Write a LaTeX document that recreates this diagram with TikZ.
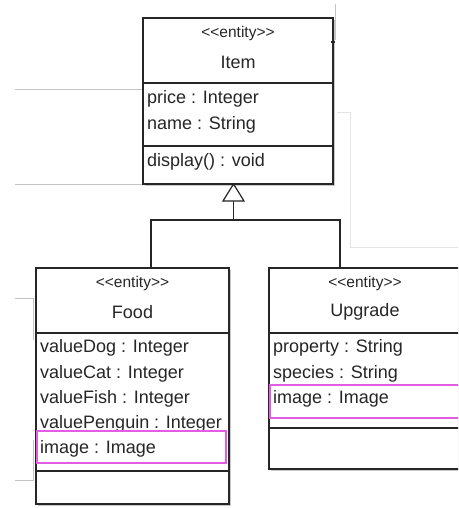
\documentclass[tikz,border=0pt]{standalone}
\usepackage{fontspec}
\setmainfont{Liberation Sans}
\usetikzlibrary{shadows}
\definecolor{boxline}{HTML}{262626}
\definecolor{guide}{HTML}{C4C4C4}
\definecolor{guidelight}{HTML}{E4E4E4}
\definecolor{hilite}{HTML}{E35DE3}
\newcommand{\stereotxt}[1]{\mbox{<}\mbox{<}#1\mbox{>}\mbox{>}}
\tikzset{
  x=1pt, y=-1pt,
  classbox/.style={draw=boxline, line width=1.4pt, fill=white, rectangle, inner sep=0pt,
    drop shadow={shadow xshift=1.6pt, shadow yshift=-1.6pt, opacity=0.35, fill=black!60}},
  divider/.style={draw=boxline, line width=1.2pt},
  stereo/.style={font=\fontsize{15.5}{17}\selectfont, inner sep=0pt, text=black!85},
  cname/.style={font=\fontsize{18}{20}\selectfont, inner sep=0pt, text=black!85},
  attr/.style={font=\fontsize{18}{20}\selectfont, inner sep=0pt, anchor=west, text=black!85},
  guideline/.style={draw=guide, line width=0.8pt},
  guidelinelight/.style={draw=guidelight, line width=0.8pt},
  hibox/.style={draw=hilite, line width=2pt, rectangle, inner sep=0pt},
  assoc/.style={draw=boxline, line width=1.3pt},
  gentip/.style={draw=boxline, line width=1.2pt, fill=white}
}
\begin{document}
\begin{tikzpicture}
\useasboundingbox (0,0) rectangle (458,508);
\clip (0,0) rectangle (458,508);
\fill[white] (0,0) rectangle (458,508);

% faint guide lines in the background
\draw[guideline] (15,89) -- (143,89);
\draw[guideline] (15,184) -- (143,184);
\draw[guideline] (335,4) -- (335,40);
\draw[guidelinelight] (337,112) -- (350,112) -- (350,247) -- (458,247);
\draw[guideline] (15,298) -- (33,298) -- (33,340);
\draw[guideline] (33,440) -- (33,480) -- (15,480);

% Item class
\node[classbox, minimum width=190pt, minimum height=166pt] (item) at (238,101) {};
\draw[divider] (143,83) -- (333,83);
\draw[divider] (143,146) -- (333,146);
\node[stereo] (itemst) at (238,33) {\stereotxt{entity}};
\node[cname] (itemnm) at (238,62) {Item};
\node[attr] (itema1) at (147,99) {price : Integer};
\node[attr] (itema2) at (147,125) {name : String};
\node[attr] (itemm1) at (147,162) {display() : void};
\draw[boxline, line width=1.4pt] (331,42) -- (335,42);

% Food class
\node[classbox, minimum width=193pt, minimum height=236pt] (food) at (132.5,386) {};
\draw[divider] (36,333) -- (229,333);
\draw[divider] (36,471) -- (229,471);
\node[stereo] (foodst) at (132.5,283) {\stereotxt{entity}};
\node[cname] (foodnm) at (132.5,312) {Food};
\node[attr] (fooda1) at (40,348) {valueDog : Integer};
\node[attr] (fooda2) at (40,373.5) {valueCat : Integer};
\node[attr] (fooda3) at (40,398.5) {valueFish : Integer};
\node[attr] (fooda4) at (40,424) {valuePenguin : Integer};
\node[attr] (fooda5) at (40,449) {image : Image};
\node[hibox, minimum width=189pt, minimum height=32pt] (foodhi) at (131.5,447) {};

% Upgrade class
\node[classbox, minimum width=194pt, minimum height=201pt] (upg) at (366,368.5) {};
\draw[divider] (269,333) -- (463,333);
\draw[divider] (269,428) -- (463,428);
\node[stereo] (upgst) at (365,283) {\stereotxt{entity}};
\node[cname] (upgnm) at (365,312) {Upgrade};
\node[attr] (upga1) at (273,348) {property : String};
\node[attr] (upga2) at (273,373.5) {species : String};
\node[attr] (upga3) at (273,398.5) {image : Image};
\node[hibox, minimum width=196pt, minimum height=33pt] (upghi) at (368,401.5) {};

% generalisation
\coordinate (tip) at (233.5,184);
\coordinate (tbase) at (233.5,201);
\coordinate (joint) at (233.5,220);
\coordinate (foodtop) at (151,268);
\coordinate (upgtop) at (340,268);
\draw[assoc] (tbase) -- (joint);
\draw[assoc] (foodtop) |- (joint) -| (upgtop);
\draw[gentip] (tip) -- (244,201) -- (223,201) -- cycle;
\end{tikzpicture}
\end{document}
